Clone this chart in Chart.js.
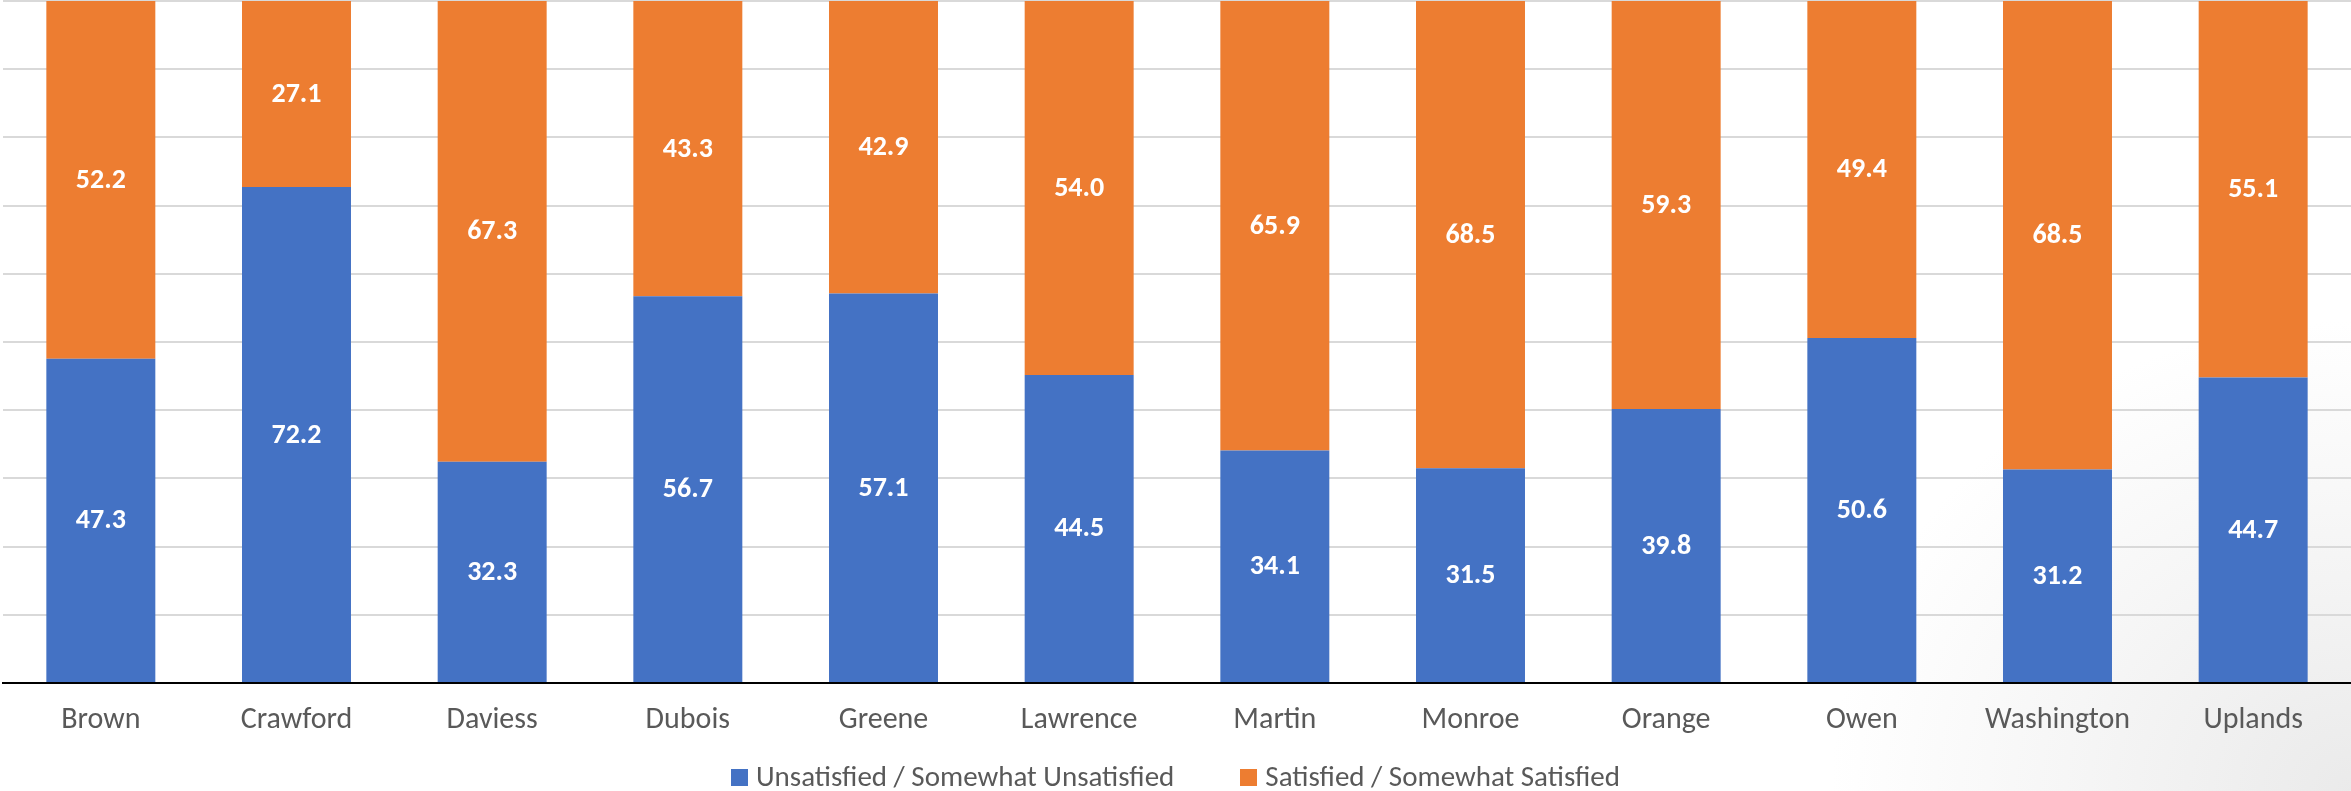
<!DOCTYPE html>
<html>
<head>
<meta charset="utf-8">
<script src="https://cdn.jsdelivr.net/npm/chart.js@4.4.1/dist/chart.umd.min.js"></script>
<style>
  html, body { margin: 0; padding: 0; background: #fff; }
  #wrap {
    position: relative;
    width: 2351px;
    height: 791px;
    background:
      radial-gradient(ellipse 520px 470px at 2351px 791px, rgba(232,232,232,0.9), rgba(240,240,240,0.6) 55%, rgba(255,255,255,0) 100%);
  }
  #legend {
    position: absolute;
    left: 0;
    top: 759px;
    width: 2351px;
    height: 34px;
    display: flex;
    justify-content: center;
    align-items: center;
    font-family: Carlito, Lato, sans-serif;
    font-size: 29px;
    color: #595959;
    line-height: 34px;
  }
  #legend .item { display: flex; align-items: center; margin: 0 33px; }
  #legend .box { width: 17px; height: 17px; margin-right: 8px; margin-top: 3px; }
</style>
</head>
<body>
<div id="wrap">
  <canvas id="myChart"></canvas>
  <div id="legend"></div>
</div>
<script>
  // county names along the x axis
  const counties = ['Brown', 'Crawford', 'Daviess', 'Dubois', 'Greene', 'Lawrence',
    'Martin', 'Monroe', 'Orange', 'Owen', 'Washington', 'Uplands'];

  // survey values as printed on the bars
  const unsatisfied = [47.3, 72.2, 32.3, 56.7, 57.1, 44.5, 34.1, 31.5, 39.8, 50.6, 31.2, 44.7];
  const satisfied = [52.2, 27.1, 67.3, 43.3, 42.9, 54.0, 65.9, 68.5, 59.3, 49.4, 68.5, 55.1];

  const seriesNames = ['Unsatisfied / Somewhat Unsatisfied', 'Satisfied / Somewhat Satisfied'];
  const colors = ['#4472C4', '#ED7D31'];

  const FONT = 'Carlito, Lato, sans-serif';

  // 100% stacked: each column is scaled to its own total
  function share(arr, i) {
    const total = unsatisfied[i] + satisfied[i];
    return arr[i] / total * 100;
  }

  const chartdata = {
    labels: counties,
    datasets: [
      {
        label: seriesNames[0],
        data: unsatisfied.map((v, i) => share(unsatisfied, i)),
        rawValues: unsatisfied,
        backgroundColor: colors[0],
        barPercentage: 0.557,
        categoryPercentage: 1.0
      },
      {
        label: seriesNames[1],
        data: satisfied.map((v, i) => share(satisfied, i)),
        rawValues: satisfied,
        backgroundColor: colors[1],
        barPercentage: 0.557,
        categoryPercentage: 1.0
      }
    ]
  };

  // white value labels in the middle of each segment
  const segmentLabels = {
    id: 'segmentLabels',
    afterDatasetsDraw(chart) {
      const ctx = chart.ctx;
      ctx.save();
      ctx.font = 'bold 28px ' + FONT;
      ctx.fillStyle = '#ffffff';
      ctx.textAlign = 'center';
      ctx.textBaseline = 'middle';
      chart.data.datasets.forEach((ds, i) => {
        chart.getDatasetMeta(i).data.forEach((bar, j) => {
          const p = bar.getProps(['x', 'y', 'base'], true);
          ctx.fillText(ds.rawValues[j].toFixed(1), p.x, (p.y + p.base) / 2 + 1);
        });
      });
      ctx.restore();
    }
  };

  var canvas = document.getElementById('myChart');
  var setup = {
    type: 'bar',
    data: chartdata,
    plugins: [segmentLabels],
    options: {
      responsive: true,
      maintainAspectRatio: false,
      animation: false,
      layout: { padding: { left: 3, right: 0, top: 1, bottom: 34 } },
      scales: {
        x: {
          stacked: true,
          grid: { display: false, drawTicks: false },
          border: { display: true, color: '#000000', width: 2 },
          ticks: { color: '#595959', font: { family: FONT, size: 30 }, padding: 19 }
        },
        y: {
          stacked: true,
          min: 0,
          max: 100,
          grid: { color: '#d9d9d9', lineWidth: 2, drawTicks: false },
          border: { display: false },
          ticks: { display: false, stepSize: 10 }
        }
      },
      plugins: {
        legend: { display: false },
        tooltip: { enabled: false }
      }
    }
  };
  chart = new Chart(canvas, setup);

  // legend below the axis, built from the same series names and colours
  const legendEl = document.getElementById('legend');
  chart.data.datasets.forEach((ds) => {
    const item = document.createElement('div');
    item.className = 'item';
    const box = document.createElement('span');
    box.className = 'box';
    box.style.background = ds.backgroundColor;
    const txt = document.createElement('span');
    txt.textContent = ds.label;
    item.appendChild(box);
    item.appendChild(txt);
    legendEl.appendChild(item);
  });
</script>
</body>
</html>
